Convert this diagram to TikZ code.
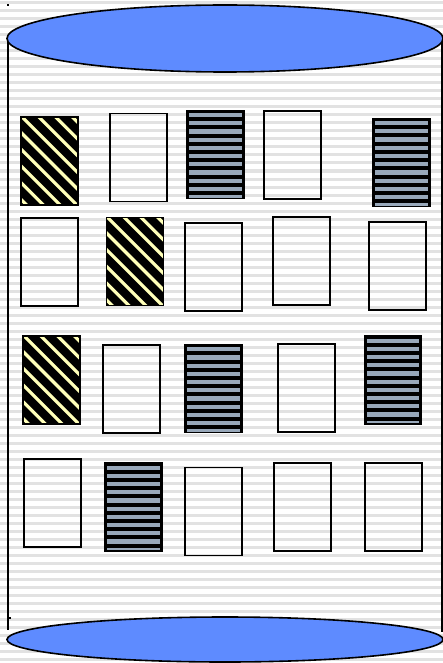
\documentclass[tikz,border=0pt]{standalone}
\usepackage{xcolor}
\usepackage{tikz}

\definecolor{lidblue}{RGB}{94,139,255}
\definecolor{bandgray}{RGB}{226,226,226}
\definecolor{diagcream}{RGB}{255,255,185}
\definecolor{barblue}{RGB}{152,168,186}

\tikzset{
  doc/.style={draw=black, line width=1.8pt, inner sep=0pt, outer sep=0pt,
    minimum width=57pt, minimum height=88pt},
  docdiag/.style={doc, path picture={
    \fill[black] (path picture bounding box.south west) rectangle (path picture bounding box.north east);
    \foreach \k in {-7,...,7}
      \draw[diagcream, line width=3.2pt] ([xshift=\k*16.7pt]path picture bounding box.center) ++(-70,-70) -- ++(140,140);
  }},
  docbars/.style={doc, path picture={
    \fill[black] (path picture bounding box.south west) rectangle (path picture bounding box.north east);
    \foreach \k in {0,...,10}
      \fill[barblue] ([shift={(2.2,2.6+\k*8.2)}]path picture bounding box.north west) rectangle ++(52.6,4.2);
  }},
  lid/.style={draw=black, line width=1.6pt, fill=lidblue},
}

\begin{document}
\begin{tikzpicture}[x=1pt, y=-1pt]
\useasboundingbox (0,0) rectangle (443,663);
\fill[white] (0,0) rectangle (443,663);
\foreach \y in {0,8,...,656}
  \fill[bandgray] (0,\y+1.5) rectangle (443,\y+4.5);

\fill (7,4) rectangle (9,6);
\draw[line width=1.5pt] (8,38) -- (8,630);
\draw[line width=1.2pt] (8,618) -- (10.5,618);
\draw[line width=1.2pt] (442,38) -- (442,632);
\draw[lid] (225,38.5) ellipse [x radius=218, y radius=33.5];

\node[docdiag] (r11) at (49.5,161) {};
\node[doc]     (r12) at (138.5,157.5) {};
\node[docbars] (r13) at (215.5,154.5) {};
\node[doc]     (r14) at (292.5,155) {};
\node[docbars] (r15) at (401.5,162.5) {};

\node[doc]     (r21) at (49.5,262) {};
\node[docdiag] (r22) at (135,261.5) {};
\node[doc]     (r23) at (213.5,267) {};
\node[doc]     (r24) at (301.5,261) {};
\node[doc]     (r25) at (397.5,266) {};

\node[docdiag] (r31) at (51.5,380) {};
\node[doc]     (r32) at (131.5,389) {};
\node[docbars] (r33) at (213.5,388.5) {};
\node[doc]     (r34) at (306.5,388) {};
\node[docbars] (r35) at (393,380) {};

\node[doc]     (r41) at (52.5,503) {};
\node[docbars] (r42) at (133.5,507) {};
\node[doc]     (r43) at (213.5,511.5) {};
\node[doc]     (r44) at (302.5,507) {};
\node[doc]     (r45) at (393.5,507) {};

\draw[lid] (225,639.5) ellipse [x radius=218, y radius=22.5];
\end{tikzpicture}
\end{document}
